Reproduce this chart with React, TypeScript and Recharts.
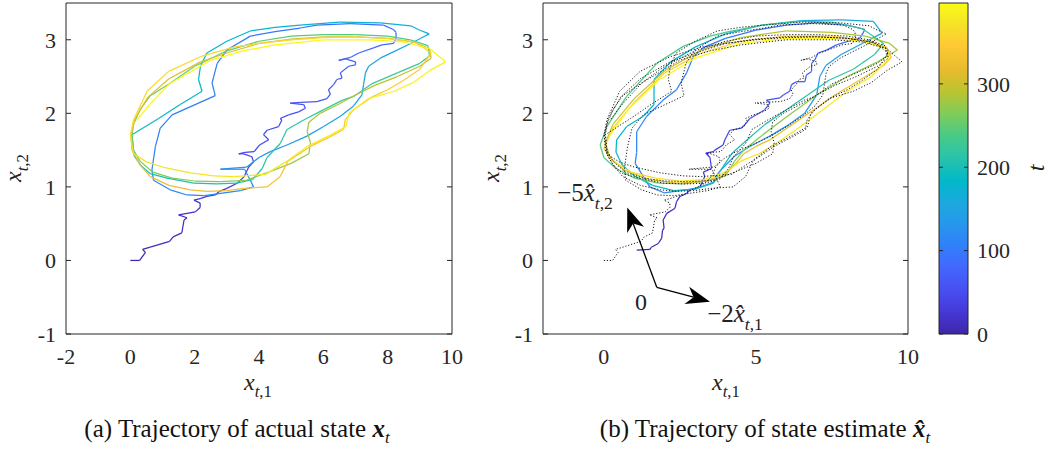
import React from 'react';
import { LineChart, Line, BarChart, Bar, XAxis, YAxis, ReferenceLine } from 'recharts';

const AX = '#262626';
const SERIF = '"Liberation Serif", "Times New Roman", Times, serif';
const T_MAX = 397;

const xTicksA = [-2, 0, 2, 4, 6, 8, 10];
const xTicksB = [0, 5, 10];
const yTicks = [-1, 0, 1, 2, 3];
const cbTicks = [0, 100, 200, 300];

// parula colormap anchors: [fraction, r, g, b]
const PARULA: number[][] = [
  [0 / 63, 0.2422, 0.1504, 0.6603], [4 / 63, 0.2706, 0.2147, 0.8364], [8 / 63, 0.2813, 0.3006, 0.9414],
  [13 / 63, 0.2602, 0.4123, 0.9952], [17 / 63, 0.1834, 0.5074, 0.9798], [21 / 63, 0.154, 0.5902, 0.9218],
  [25 / 63, 0.1113, 0.6635, 0.8763], [29 / 63, 0.0036, 0.7203, 0.7917], [34 / 63, 0.1717, 0.767, 0.6554],
  [38 / 63, 0.2906, 0.7973, 0.5188], [42 / 63, 0.5044, 0.7993, 0.348], [46 / 63, 0.7242, 0.7698, 0.191],
  [50 / 63, 0.9035, 0.733, 0.1774], [55 / 63, 0.9952, 0.7893, 0.2028], [59 / 63, 0.961, 0.889, 0.1537],
  [63 / 63, 0.9769, 0.9839, 0.0805],
];

// actual state x_t : [x1, x2, t]
const actualWalk: number[][] = [
  [0, 0, 0], [0.29, 0, 2], [0.47, 0.11, 4], [0.38, 0.15, 5], [0.62, 0.18, 7], [1.22, 0.26, 9], [1.33, 0.32, 11],
  [1.6, 0.375, 13], [1.67, 0.55, 15], [1.76, 0.58, 16], [1.5, 0.62, 17], [2.02, 0.66, 19], [2.17, 0.72, 20],
  [2.17, 0.78, 21], [1.98, 0.82, 22], [2.17, 0.84, 23], [2.38, 0.87, 25], [2.64, 0.89, 26], [2.77, 0.94, 28],
  [3.0, 0.98, 29], [3.32, 1.05, 31], [3.54, 1.14, 33], [3.68, 1.27, 35], [3.83, 1.34, 36], [3.78, 1.41, 37],
  [3.52, 1.45, 38], [3.37, 1.45, 39], [3.57, 1.47, 40], [3.85, 1.48, 41], [4.02, 1.57, 43], [4.3, 1.64, 45],
  [4.14, 1.71, 46], [4.25, 1.77, 47], [4.61, 1.82, 49], [4.71, 1.91, 50], [4.66, 1.93, 51], [4.92, 1.98, 53],
  [5.23, 2.02, 55], [5.44, 2.07, 56], [5.39, 2.12, 57], [4.97, 2.14, 58], [5.29, 2.15, 59], [5.8, 2.16, 61],
  [6.11, 2.2, 63], [6.22, 2.26, 64], [6.16, 2.32, 65], [6.32, 2.39, 66], [6.42, 2.46, 67], [6.58, 2.48, 68],
  [6.53, 2.55, 69], [6.79, 2.64, 71], [7.0, 2.66, 72], [7.0, 2.7, 73], [6.69, 2.74, 74], [6.48, 2.72, 75],
  [6.84, 2.76, 76], [7.1, 2.82, 78], [7.56, 2.89, 80], [7.82, 2.93, 81], [8.18, 2.95, 82], [8.26, 3.02, 83],
  [8.26, 3.1, 84], [8.18, 3.14, 85],
];
const actualLoopB: number[][] = [
  [7.87, 3.2, 87], [6.84, 3.22, 90], [5.8, 3.2, 92], [5.28, 3.16, 94], [4.5, 3.11, 96], [3.73, 3.05, 98],
  [3.0, 2.86, 100], [2.7, 2.68, 102], [2.54, 2.41, 104], [2.64, 2.24, 105], [1.3, 1.98, 107], [0.93, 1.8, 109],
  [0.78, 1.55, 110], [0.67, 1.23, 112], [0.72, 1.09, 113], [1.24, 0.96, 115], [1.76, 0.89, 116], [2.3, 0.88, 117],
  [3.42, 0.95, 119], [3.83, 1.0, 120], [3.73, 1.09, 121], [3.55, 1.24, 122], [2.8, 1.24, 124], [3.3, 1.26, 125],
  [3.62, 1.27, 127],
];
const actualLoopC: number[][] = [
  [4.0, 1.4, 130], [4.35, 1.48, 132], [4.87, 1.57, 135], [5.49, 1.69, 138], [6.01, 1.82, 141], [6.53, 1.96, 144],
  [6.94, 2.1, 147], [7.2, 2.25, 149], [7.25, 2.39, 150], [7.31, 2.55, 152], [7.41, 2.64, 153], [7.77, 2.75, 155],
  [8.29, 2.86, 157], [8.72, 2.95, 159], [9.03, 3.02, 161], [9.29, 3.08, 163], [8.95, 3.14, 165], [8.72, 3.19, 166],
  [7.77, 3.23, 169], [6.5, 3.24, 172], [5.28, 3.2, 175], [4.5, 3.17, 177], [3.73, 3.12, 179], [3.0, 2.98, 181],
  [2.38, 2.82, 183], [2.18, 2.64, 184], [2.12, 2.46, 185], [2.23, 2.3, 186], [1.55, 2.12, 188], [0.88, 1.93, 190],
  [0.05, 1.71, 193],
];
const actualLoopD: number[][] = [
  [0.12, 1.42, 195], [0.35, 1.28, 197], [0.62, 1.18, 199], [1.14, 1.12, 201], [1.97, 1.05, 204], [2.69, 1.04, 206],
  [3.3, 1.05, 208], [3.8, 1.1, 210], [4.1, 1.25, 212], [4.25, 1.4, 214], [4.66, 1.59, 216], [4.87, 1.78, 218],
  [5.39, 1.91, 220], [6.01, 2.05, 222], [6.6, 2.18, 224], [6.94, 2.23, 225], [7.5, 2.4, 227], [8.3, 2.55, 229],
  [9.0, 2.68, 231], [9.3, 2.78, 233], [9.25, 2.92, 235], [8.7, 3.0, 237], [8.0, 3.05, 239], [7.0, 3.07, 241],
  [6.0, 3.07, 243], [5.0, 3.05, 245], [4.0, 2.98, 247], [3.0, 2.85, 249], [2.0, 2.64, 251], [1.2, 2.4, 253],
  [0.62, 2.24, 254], [0.3, 2.05, 255], [0.1, 1.85, 256], [0.05, 1.7, 257],
];
const actualLoopE: number[][] = [
  [0.1, 1.5, 259], [0.3, 1.35, 261], [0.7, 1.2, 263], [1.3, 1.12, 265], [2.0, 1.08, 267], [2.8, 1.07, 269],
  [3.6, 1.09, 271], [4.3, 1.2, 273], [5.0, 1.32, 275], [5.55, 1.45, 277], [5.6, 1.6, 278], [5.5, 1.75, 279],
  [5.55, 1.88, 280], [5.9, 2.0, 282], [6.5, 2.13, 284], [7.0, 2.25, 286], [7.6, 2.38, 288], [8.3, 2.5, 290],
  [9.0, 2.64, 292], [9.35, 2.75, 294], [9.3, 2.88, 296], [8.8, 2.97, 298], [8.0, 3.02, 300], [7.0, 3.04, 302],
  [6.0, 3.04, 304], [5.0, 3.01, 306], [4.0, 2.95, 308], [3.0, 2.82, 310], [2.18, 2.7, 311], [1.2, 2.47, 313],
  [0.55, 2.22, 315], [0.15, 1.93, 317], [0.02, 1.71, 318],
];
const actualLoopF: number[][] = [
  [0.05, 1.5, 320], [0.3, 1.3, 322], [0.62, 1.14, 324], [1.2, 1.02, 326], [1.87, 0.96, 328], [2.38, 0.94, 329],
  [3.0, 0.95, 330], [3.52, 0.98, 332], [4.25, 1.0, 334], [4.66, 1.14, 336], [4.9, 1.35, 338], [5.6, 1.55, 340],
  [6.2, 1.68, 341], [6.63, 1.78, 342], [6.68, 1.91, 343], [6.94, 2.05, 344], [7.5, 2.22, 345], [8.0, 2.32, 346],
  [8.5, 2.45, 347], [9.0, 2.6, 348], [9.35, 2.82, 350], [8.9, 2.96, 352], [8.0, 3.02, 354], [7.0, 3.04, 356],
  [6.0, 3.03, 358], [5.0, 3.0, 359], [4.0, 2.95, 361], [3.21, 2.9, 362], [2.18, 2.77, 363], [1.19, 2.57, 365],
  [0.52, 2.3, 366], [0.1, 1.91, 367], [0.0, 1.7, 368],
];
const actualLoopG: number[][] = [
  [0.1, 1.45, 369], [0.5, 1.34, 371], [1.0, 1.27, 373], [1.87, 1.19, 375], [2.6, 1.15, 376], [3.21, 1.14, 377],
  [4.2, 1.17, 379], [4.87, 1.35, 381], [5.5, 1.55, 382], [6.2, 1.7, 383], [6.7, 1.82, 384], [6.8, 2.0, 385],
  [7.4, 2.2, 386], [8.2, 2.3, 387], [8.8, 2.42, 388], [9.3, 2.58, 389], [9.8, 2.7, 390], [9.3, 2.88, 391],
  [8.5, 2.97, 392], [7.5, 3.0, 393], [6.0, 3.0, 394], [4.5, 2.93, 395], [3.5, 2.85, 395.5], [2.49, 2.72, 396],
  [1.24, 2.41, 396.5], [0.6, 2.12, 396.8], [0.21, 1.91, 397],
];

// state estimate x̂_t : [x1, x2, t]
const estWalk: number[][] = [
  [1.08, 0.14, 0], [1.52, 0.15, 2], [1.56, 0.18, 3], [1.79, 0.23, 5], [1.9, 0.3, 7], [1.93, 0.41, 9], [1.98, 0.44, 10],
  [1.95, 0.55, 12], [2.07, 0.64, 14], [2.34, 0.71, 16], [2.39, 0.8, 18], [2.5, 0.87, 20], [2.72, 0.91, 22],
  [2.83, 0.96, 24], [3.16, 1.0, 26], [3.32, 1.14, 28], [3.27, 1.2, 30], [3.54, 1.25, 32], [3.49, 1.4, 34],
  [3.35, 1.46, 35], [3.6, 1.48, 36], [3.65, 1.5, 37], [3.92, 1.57, 39], [3.98, 1.64, 41], [4.14, 1.77, 43],
  [4.53, 1.8, 45], [4.69, 1.87, 47], [4.8, 1.93, 48], [5.02, 1.98, 50], [5.29, 2.05, 52], [5.46, 2.14, 54],
  [5.35, 2.18, 55], [5.79, 2.21, 57], [5.9, 2.25, 58], [6.11, 2.3, 60], [6.17, 2.39, 62], [6.33, 2.43, 63],
  [6.61, 2.43, 65], [6.66, 2.52, 66], [6.83, 2.57, 68], [6.83, 2.68, 70], [6.94, 2.73, 71], [7.04, 2.82, 73],
  [7.32, 2.86, 75], [7.65, 2.93, 77], [8.19, 3.0, 79], [8.41, 3.02, 81], [8.52, 3.09, 83], [8.58, 3.14, 85],
];
const estLoopB: number[][] = [
  [8.0, 3.2, 87], [7.0, 3.23, 89], [6.0, 3.2, 91], [5.0, 3.13, 94], [4.0, 3.02, 97], [3.3, 2.9, 99],
  [2.94, 2.77, 100], [2.72, 2.55, 102], [2.39, 2.32, 104], [1.95, 2.18, 106], [1.41, 1.96, 108], [1.08, 1.75, 110],
  [1.08, 1.47, 112], [1.03, 1.32, 113], [1.51, 1.0, 115], [1.98, 0.92, 117], [3.05, 0.98, 119], [3.64, 1.07, 121],
  [3.76, 1.19, 123],
];
const estLoopC: number[][] = [
  [4.3, 1.42, 126], [4.8, 1.55, 129], [5.5, 1.7, 132], [6.1, 1.85, 135], [6.6, 2.0, 138], [7.0, 2.25, 141],
  [7.1, 2.5, 143], [7.3, 2.65, 145], [7.8, 2.8, 148], [8.5, 2.95, 151], [9.15, 3.09, 155], [8.86, 3.25, 157],
  [7.8, 3.27, 160], [6.5, 3.26, 163], [5.2, 3.2, 166], [4.0, 3.08, 169], [3.0, 2.9, 172], [2.2, 2.7, 174],
  [1.65, 2.46, 176], [1.65, 2.12, 178], [1.3, 1.96, 180], [0.75, 1.82, 182], [0.42, 1.64, 184], [0.4, 1.47, 185],
  [0.6, 1.3, 187], [1.0, 1.15, 189], [1.6, 1.02, 191], [2.3, 0.95, 193], [3.0, 0.97, 195], [3.6, 1.05, 197],
  [3.8, 1.2, 199],
];
const estLoopD: number[][] = [
  [4.2, 1.45, 201], [4.6, 1.6, 203], [5.3, 1.85, 206], [6.0, 2.05, 209], [6.7, 2.25, 212], [7.4, 2.45, 215],
  [8.2, 2.6, 218], [8.9, 2.8, 221], [9.2, 2.95, 223], [8.5, 3.15, 226], [7.5, 3.24, 228], [6.5, 3.25, 230],
  [5.2, 3.2, 232], [4.0, 3.1, 234], [3.49, 3.05, 235], [2.61, 2.91, 237], [1.74, 2.68, 239], [0.75, 2.23, 241],
  [0.1, 1.82, 243], [-0.12, 1.57, 245],
];
const estLoopE: number[][] = [
  [0.0, 1.4, 247], [0.4, 1.25, 249], [1.0, 1.12, 251], [1.8, 1.05, 253], [2.6, 1.04, 255], [3.4, 1.08, 257],
  [4.0, 1.15, 259], [4.3, 1.35, 261], [4.6, 1.5, 263], [5.2, 1.7, 265], [6.0, 1.95, 268], [7.0, 2.25, 271],
  [8.0, 2.5, 274], [9.0, 2.7, 277], [9.65, 2.86, 280], [9.4, 2.95, 282], [8.6, 3.05, 284], [7.5, 3.1, 286],
  [6.0, 3.12, 289], [4.5, 3.03, 292], [3.2, 2.86, 295], [2.0, 2.58, 297], [1.0, 2.2, 299], [0.3, 1.85, 301],
  [0.05, 1.6, 303],
];
const estLoopF: number[][] = [
  [0.2, 1.4, 305], [0.7, 1.22, 307], [1.5, 1.1, 309], [2.4, 1.05, 311], [3.2, 1.07, 313], [3.9, 1.15, 315],
  [4.3, 1.3, 317], [4.6, 1.45, 319], [5.0, 1.55, 321], [5.5, 1.65, 323], [6.2, 1.85, 326], [6.9, 2.05, 329],
  [7.6, 2.25, 332], [8.4, 2.45, 335], [9.2, 2.65, 338], [9.45, 2.76, 340], [9.3, 2.9, 342], [8.5, 3.0, 344],
  [7.5, 3.05, 346], [6.0, 3.05, 348], [4.5, 2.98, 350], [3.2, 2.82, 352], [2.0, 2.55, 354], [1.0, 2.15, 356],
  [0.3, 1.8, 358], [0.0, 1.52, 360],
];
const estLoopG: number[][] = [
  [0.3, 1.35, 362], [0.9, 1.2, 364], [1.7, 1.12, 366], [2.5, 1.08, 368], [3.3, 1.1, 370], [4.0, 1.2, 372],
  [4.5, 1.35, 374], [5.1, 1.45, 376], [5.7, 1.6, 378], [6.4, 1.8, 380], [7.2, 2.05, 382], [8.0, 2.3, 384],
  [8.8, 2.5, 386], [9.39, 2.75, 388], [9.3, 2.88, 389], [8.5, 2.98, 390], [7.5, 3.02, 391], [6.0, 3.02, 392],
  [4.5, 2.95, 393], [3.0, 2.75, 394], [1.8, 2.45, 395], [0.8, 2.05, 396], [0.2, 1.7, 397],
];

const actualPath = [...actualWalk, ...actualLoopB, ...actualLoopC, ...actualLoopD, ...actualLoopE, ...actualLoopF, ...actualLoopG];
const estPath = [...estWalk, ...estLoopB, ...estLoopC, ...estLoopD, ...estLoopE, ...estLoopF, ...estLoopG];

// annotation arrows in panel (b), in data coordinates
const arrowOrigin = { x: 1.74, y: -0.365 };
const arrowUpTip = { x: 0.77, y: 0.72 };
const arrowRightTip = { x: 3.49, y: -0.56 };

function parula(t: number): string {
  const f = Math.max(0, Math.min(1, t / T_MAX));
  for (let i = 0; i < PARULA.length - 1; i++) {
    const a = PARULA[i];
    const b = PARULA[i + 1];
    if (f <= b[0]) {
      const u = (f - a[0]) / (b[0] - a[0]);
      const c = [1, 2, 3].map((k) => Math.round(255 * (a[k] + u * (b[k] - a[k]))));
      return `rgb(${c[0]},${c[1]},${c[2]})`;
    }
  }
  const l = PARULA[PARULA.length - 1];
  return `rgb(${Math.round(l[1] * 255)},${Math.round(l[2] * 255)},${Math.round(l[3] * 255)})`;
}

type Seg = { data: { x: number; y: number }[]; color: string };
function toSegments(path: number[][], step = 1): Seg[] {
  const out: Seg[] = [];
  for (let i = 0; i < path.length - 1; i += step) {
    const pts = path.slice(i, Math.min(i + step + 1, path.length));
    const tm = (pts[0][2] + pts[pts.length - 1][2]) / 2;
    out.push({ data: pts.map((p) => ({ x: p[0], y: p[1] })), color: parula(tm) });
  }
  return out;
}

const segsActual = toSegments(actualPath, 1);
const segsEst = toSegments(estPath, 1);
const dottedActual = actualPath.map((p) => ({ x: p[0], y: p[1] }));

// colorbar: one bar spanning 0..T_MAX, filled with the parula gradient
const cbData = [{ name: 'cb', t: T_MAX }];

const emptyTick = () => <g />;
const tickStyle = { fontFamily: SERIF, fontSize: 22, fill: AX };

function frameAxes(xTicks: number[]) {
  return [
    <XAxis key="xb" xAxisId="x" type="number" dataKey="x" domain={[-2, 10]} ticks={xTicks} interval={0} allowDataOverflow
      tickLine={false} tickSize={0} tickMargin={14} height={30} axisLine={{ stroke: AX }} tick={tickStyle} />,
    <XAxis key="xbm" xAxisId="xbm" type="number" orientation="bottom" mirror domain={[-2, 10]} ticks={xTicks} interval={0}
      allowDataOverflow tickSize={5} tickLine={{ stroke: AX }} axisLine={false} tick={emptyTick} />,
    <XAxis key="xt" xAxisId="xt" type="number" orientation="top" mirror domain={[-2, 10]} ticks={xTicks} interval={0}
      allowDataOverflow tickSize={5} tickLine={{ stroke: AX }} axisLine={{ stroke: AX }} tick={emptyTick} />,
    <YAxis key="yl" yAxisId="y" type="number" dataKey="y" domain={[-1, 3.5]} ticks={yTicks} interval={0} allowDataOverflow
      width={56} tickLine={false} tickSize={0} tickMargin={10} axisLine={{ stroke: AX }} tick={tickStyle} />,
    <YAxis key="ylm" yAxisId="ylm" type="number" orientation="left" mirror domain={[-1, 3.5]} ticks={yTicks} interval={0}
      allowDataOverflow tickSize={5} tickLine={{ stroke: AX }} axisLine={false} tick={emptyTick} />,
    <YAxis key="yr" yAxisId="yr" type="number" orientation="right" mirror domain={[-1, 3.5]} ticks={yTicks} interval={0}
      allowDataOverflow tickSize={5} tickLine={{ stroke: AX }} axisLine={{ stroke: AX }} tick={emptyTick} />,
  ];
}

function renderSegs(segs: Seg[], prefix: string) {
  return segs.map((s, i) => (
    <Line key={prefix + i} xAxisId="x" yAxisId="y" data={s.data} dataKey="y" type="linear" stroke={s.color}
      strokeWidth={1.25} dot={false} activeDot={false} isAnimationActive={false} />
  ));
}

const ArrowShape = (p: any) => {
  const { x1, y1, x2, y2 } = p;
  const dx = x2 - x1;
  const dy = y2 - y1;
  const len = Math.hypot(dx, dy) || 1;
  const ux = dx / len, uy = dy / len;
  const nx = -uy, ny = ux;
  const L = 24, W = 9, N = 17;
  const bx = x2 - ux * L, by = y2 - uy * L;
  const pts = [[x2, y2], [bx + nx * W, by + ny * W], [x2 - ux * N, y2 - uy * N], [bx - nx * W, by - ny * W]]
    .map((q) => q.join(',')).join(' ');
  return (
    <g>
      <line x1={x1} y1={y1} x2={x2 - ux * N} y2={y2 - uy * N} stroke="#000" strokeWidth={1.3} />
      <polygon points={pts} fill="#000" />
    </g>
  );
};

const abs = (x: number, y: number, extra: React.CSSProperties = {}): React.CSSProperties => ({
  position: 'absolute', left: x, top: y, transform: 'translate(-50%, -50%)', whiteSpace: 'nowrap',
  fontFamily: SERIF, color: '#222', lineHeight: 1, ...extra,
});

const MathX = ({ sub, hat, size = 24 }: { sub: string; hat?: boolean; size?: number }) => (
  <span style={{ fontSize: size }}>
    <i>{hat ? 'x\u0302' : 'x'}</i>
    <sub style={{ fontSize: size * 0.7, verticalAlign: -size * 0.3 + 'px', lineHeight: 1 }}><i>t</i>,{sub}</sub>
  </span>
);

export default function App() {
  return (
    <div style={{ position: 'absolute', left: 0, top: 0, width: 1048, height: 449, background: '#fff', overflow: 'hidden' }}>
      <svg width={0} height={0} style={{ position: 'absolute' }}>
        <defs>
          <linearGradient id="parulaGrad" x1="0" y1="1" x2="0" y2="0">
            {PARULA.map((c, i) => (
              <stop key={i} offset={c[0]} stopColor={`rgb(${Math.round(c[1] * 255)},${Math.round(c[2] * 255)},${Math.round(c[3] * 255)})`} />
            ))}
          </linearGradient>
        </defs>
      </svg>
      <div style={{ position: 'absolute', left: 0, top: 0 }}>
        <LineChart width={480} height={400} margin={{ top: 3, right: 28, bottom: 36, left: 10 }}>
          {frameAxes(xTicksA)}
          {renderSegs(segsActual, 'a')}
        </LineChart>
      </div>
      <div style={{ position: 'absolute', left: 480, top: 0 }}>
        <LineChart width={440} height={400} margin={{ top: 3, right: 12, bottom: 36, left: 7 }}>
          {frameAxes(xTicksB)}
          {renderSegs(segsEst, 'b')}
          <Line xAxisId="x" yAxisId="y" data={dottedActual} dataKey="y" type="linear" stroke="#1a1a1a"
            strokeWidth={1} strokeDasharray="1.2 1.8" dot={false} activeDot={false} isAnimationActive={false} />
          <ReferenceLine xAxisId="x" yAxisId="y" segment={[arrowOrigin, arrowUpTip]} shape={ArrowShape} ifOverflow="visible" />
          <ReferenceLine xAxisId="x" yAxisId="y" segment={[arrowOrigin, arrowRightTip]} shape={ArrowShape} ifOverflow="visible" />
        </LineChart>
      </div>
      <div style={{ position: 'absolute', left: 900, top: 0 }}>
        <BarChart width={140} height={400} data={cbData} margin={{ top: 3, right: 12, bottom: 66, left: 39 }}
          barCategoryGap={0} barGap={0}>
          <XAxis dataKey="name" type="category" hide />
          <XAxis xAxisId="ct" dataKey="name" type="category" orientation="top" mirror tickLine={false}
            axisLine={{ stroke: AX }} tick={emptyTick} />
          <XAxis xAxisId="cbm" dataKey="name" type="category" orientation="bottom" mirror tickLine={false}
            axisLine={{ stroke: AX }} tick={emptyTick} />
          <YAxis orientation="right" type="number" domain={[0, T_MAX]} ticks={cbTicks} interval={0} allowDataOverflow
            width={60} tickLine={false} tickSize={0} tickMargin={9} axisLine={false} tick={tickStyle} />
          <YAxis yAxisId="cl" orientation="left" mirror type="number" domain={[0, T_MAX]} ticks={cbTicks} interval={0}
            allowDataOverflow tickSize={4} tickLine={{ stroke: AX }} axisLine={{ stroke: AX }} tick={emptyTick} />
          <YAxis yAxisId="cr" orientation="right" mirror type="number" domain={[0, T_MAX]} ticks={cbTicks} interval={0}
            allowDataOverflow tickSize={4} tickLine={{ stroke: AX }} axisLine={{ stroke: AX }} tick={emptyTick} />
          <Bar dataKey="t" fill="url(#parulaGrad)" isAnimationActive={false} />
        </BarChart>
      </div>

      {/* axis labels */}
      <div style={abs(258, 385)}><MathX sub="1" /></div>
      <div style={abs(726, 385)}><MathX sub="1" /></div>
      <div style={abs(16, 168, { transform: 'translate(-50%, -50%) rotate(-90deg)' })}><MathX sub="2" /></div>
      <div style={abs(494, 168, { transform: 'translate(-50%, -50%) rotate(-90deg)' })}><MathX sub="2" /></div>
      <div style={abs(1036, 168, { transform: 'translate(-50%, -50%) rotate(-90deg)', fontSize: 24 })}><i>t</i></div>

      {/* annotations in (b) */}
      <div style={abs(585, 196, { fontSize: 25 })}>−5<MathX sub="2" hat size={25} /></div>
      <div style={abs(641, 302, { fontSize: 24 })}>0</div>
      <div style={abs(735, 317, { fontSize: 25 })}>−2<MathX sub="1" hat size={25} /></div>

      {/* captions */}
      <div style={abs(237, 431, { fontSize: 25, color: '#111' })}>
        (a) Trajectory of actual state <b><i>x</i></b><sub style={{ fontSize: 17, lineHeight: 1 }}><i>t</i></sub>
      </div>
      <div style={abs(765, 431, { fontSize: 25, color: '#111' })}>
        (b) Trajectory of state estimate <b><i>x&#770;</i></b><sub style={{ fontSize: 17, lineHeight: 1 }}><i>t</i></sub>
      </div>
    </div>
  );
}
